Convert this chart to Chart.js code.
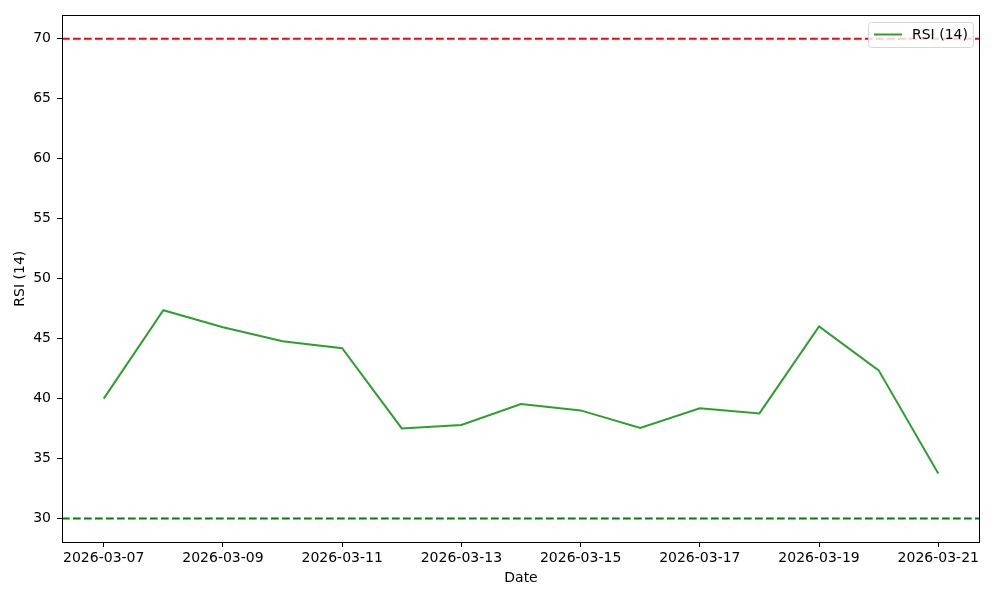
<!DOCTYPE html>
<html>
<head>
<meta charset="utf-8">
<script src="https://cdn.jsdelivr.net/npm/chart.js@4.4.1/dist/chart.umd.min.js"></script>
<style>
  html, body { margin: 0; padding: 0; background: #fff; }
</style>
</head>
<body>
<canvas id="myChart" width="1000" height="600"></canvas>
<script>
// dates and RSI values
const dates = ['2026-03-07','2026-03-08','2026-03-09','2026-03-10','2026-03-11','2026-03-12','2026-03-13',
               '2026-03-14','2026-03-15','2026-03-16','2026-03-17','2026-03-18','2026-03-19','2026-03-20','2026-03-21'];
const rsi = [40.0, 47.37, 45.95, 44.78, 44.2, 37.52, 37.81, 39.56, 39.02, 37.56, 39.19, 38.77, 46.03, 42.36, 33.76];
const overbought = 70;
const oversold = 30;
const yTicks = [30, 35, 40, 45, 50, 55, 60, 65, 70];
const xTickEvery = 2;

const FONT = 'DejaVu Sans';
const xMin = -0.7, xMax = dates.length - 1 + 0.7;

// frame + legend inside the axes, like matplotlib
const framePlugin = {
    id: 'frame',
    afterDraw(chart) {
        const {ctx, chartArea: a} = chart;
        ctx.save();
        ctx.strokeStyle = '#000';
        ctx.lineWidth = 1;
        const l = Math.round(a.left) + 0.5, r = Math.round(a.right) - 0.5;
        const t = Math.round(a.top) + 0.5, b = Math.round(a.bottom) + 0.5;
        ctx.strokeRect(l, t, r - l, b - t);

        // legend box
        const bx = 868, by = 22, bw = 105, bh = 25;
        ctx.fillStyle = 'rgba(255,255,255,0.8)';
        ctx.strokeStyle = '#d6d6d6';
        ctx.lineWidth = 1;
        ctx.beginPath();
        ctx.roundRect(bx + 0.5, by + 0.5, bw, bh, 3);
        ctx.fill();
        ctx.stroke();
        ctx.strokeStyle = '#2ca02c';
        ctx.lineWidth = 2;
        ctx.beginPath();
        ctx.moveTo(874, by + 12.5);
        ctx.lineTo(902, by + 12.5);
        ctx.stroke();
        ctx.fillStyle = '#000';
        ctx.font = '14px ' + FONT;
        ctx.textBaseline = 'middle';
        ctx.fillText('RSI (14)', 912, by + 13);
        ctx.restore();
    }
};

const ctx = document.getElementById('myChart');
const myChart = new Chart(ctx, {
    type: 'line',
    data: {
        datasets: [{
            label: 'RSI (14)',
            data: rsi.map((v, i) => ({x: i, y: v})),
            borderColor: '#2ca02c',
            borderWidth: 2,
            pointRadius: 0,
            tension: 0,
        },
        {
            label: 'overbought',
            data: [{x: xMin, y: overbought}, {x: xMax, y: overbought}],
            borderColor: '#ff0000',
            borderWidth: 2,
            borderDash: [7.7, 3.3],
            pointRadius: 0,
        },
        {
            label: 'oversold',
            data: [{x: xMin, y: oversold}, {x: xMax, y: oversold}],
            borderColor: '#008000',
            borderWidth: 2,
            borderDash: [7.7, 3.3],
            pointRadius: 0,
        }],
    },
    options: {
        responsive: false,
        animation: false,
        layout: { padding: { left: 0, top: 15.4, right: 20, bottom: 0 } },
        plugins: {
            legend: { display: false },
            tooltip: { enabled: false },
        },
        scales: {
            x: {
                type: 'linear',
                min: xMin,
                max: xMax,
                afterFit: s => { s.height = 58; },
                afterBuildTicks: s => {
                    s.ticks = dates.map((d, i) => ({value: i})).filter(t => t.value % xTickEvery === 0);
                },
                grid: { drawOnChartArea: false, tickLength: 5, tickColor: '#000', tickWidth: 1 },
                border: { display: false },
                ticks: {
                    color: '#000',
                    font: { family: FONT, size: 14 },
                    padding: 3,
                    maxRotation: 0,
                    autoSkip: false,
                    callback: v => dates[v],
                },
                title: {
                    display: true,
                    text: 'Date',
                    color: '#000',
                    font: { family: FONT, size: 14 },
                    padding: { top: 0, bottom: 13 },
                },
            },
            y: {
                min: 28.05,
                max: 71.95,
                afterFit: s => { s.width = 62; },
                afterBuildTicks: s => { s.ticks = yTicks.map(v => ({value: v})); },
                grid: { drawOnChartArea: false, tickLength: 5, tickColor: '#000', tickWidth: 1 },
                border: { display: false },
                ticks: {
                    color: '#000',
                    font: { family: FONT, size: 14 },
                    padding: 6,
                },
                title: {
                    display: true,
                    text: 'RSI (14)',
                    color: '#000',
                    font: { family: FONT, size: 14 },
                    padding: { top: 12, bottom: 0 },
                },
            },
        },
    },
    plugins: [framePlugin],
});
</script>
</body>
</html>
